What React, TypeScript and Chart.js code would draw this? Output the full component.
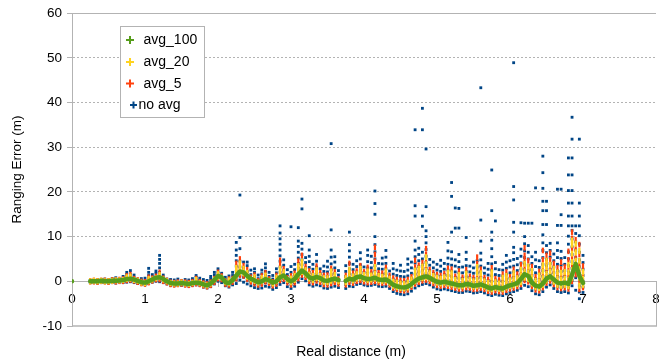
import React, { useEffect, useRef } from "react";
import { Chart, registerables } from "chart.js";

Chart.register(...registerables);

const seriesNames = ["avg_100", "avg_20", "avg_5", "no avg"];
const seriesColors = ["#579d1c", "#ffd320", "#ff420e", "#004586"];
const xTickStep = 1;
const yTickStep = 10;
const xMin = 0;
const xMax = 8;
const yMin = -10;
const yMax = 60;
const xTitle = "Real distance (m)";
const yTitle = "Ranging Error (m)";
const lineBreaksAfter = [0, 3.65];

// avg_100: [distance, error]
const avg100: number[][] = [
  [0, 0],
  [0.25, 0.0], [0.3, 0.0], [0.35, 0.0], [0.4, 0.1], [0.45, 0.0], [0.5, 0.0], [0.55, 0.1], [0.6, 0.1],
  [0.65, 0.2], [0.7, 0.3], [0.75, 0.5], [0.8, 0.6], [0.85, 0.4], [0.9, 0.1], [0.95, -0.2], [1.0, -0.3],
  [1.05, 0.0], [1.1, 0.4], [1.15, 0.8], [1.2, 0.9], [1.25, 0.5], [1.3, 0.0], [1.35, -0.4], [1.4, -0.5],
  [1.45, -0.5], [1.5, -0.4], [1.55, -0.5], [1.6, -0.6], [1.65, -0.4], [1.7, -0.3], [1.75, -0.4], [1.8, -0.7],
  [1.85, -0.9], [1.9, -0.5], [1.95, 0.3], [2.0, 1.2], [2.05, 0.9], [2.1, -0.2], [2.15, -0.4], [2.2, 0.3],
  [2.25, 1.3], [2.3, 2.2], [2.35, 2.0], [2.4, 1.2], [2.45, 0.6], [2.5, 0.2], [2.55, -0.2], [2.6, 0.0],
  [2.65, 0.5], [2.7, 0.2], [2.75, -0.3], [2.8, 0.0], [2.85, 0.9], [2.9, 1.3], [2.95, 0.5], [3.0, 0.0],
  [3.05, 0.5], [3.1, 1.6], [3.15, 2.4], [3.2, 1.8], [3.25, 0.9], [3.3, 0.6], [3.35, 1.0], [3.4, 0.7],
  [3.45, 0.2], [3.5, 0.1], [3.55, 0.4], [3.6, 0.6], [3.65, 0.3],
  [3.75, 0.1], [3.8, 0.6], [3.85, 0.4], [3.9, 0.9], [3.95, 1.1], [4.0, 0.7], [4.05, 0.5], [4.1, 0.6],
  [4.15, 0.8], [4.2, 0.4], [4.25, 0.3], [4.3, 0.4], [4.35, -0.1], [4.4, -0.8], [4.45, -1.1], [4.5, -1.3],
  [4.55, -1.4], [4.6, -1.2], [4.65, -0.6], [4.7, 0.1], [4.75, 0.6], [4.8, 0.9], [4.85, 1.1], [4.9, 0.8],
  [4.95, 0.3], [5.0, -0.1], [5.05, -0.3], [5.1, -0.1], [5.15, -0.3], [5.2, -0.5], [5.25, -0.7], [5.3, -0.9],
  [5.35, -0.9], [5.4, -0.6], [5.45, -0.7], [5.5, -1.0], [5.55, -0.9], [5.6, -0.7], [5.65, -1.0], [5.7, -1.4],
  [5.75, -1.6], [5.8, -1.3], [5.85, -1.5], [5.9, -1.6], [5.95, -1.2], [6.0, -0.9], [6.05, -0.7], [6.1, -0.4],
  [6.15, 0.5], [6.2, 1.6], [6.25, 1.2], [6.3, -0.3], [6.35, -1.0], [6.4, -1.2], [6.45, -0.5], [6.5, 0.6],
  [6.55, 1.1], [6.6, 0.4], [6.65, -0.3], [6.7, -0.5], [6.75, -0.3], [6.8, -0.6], [6.85, 1.5], [6.9, 3.9],
  [6.95, 1.2], [7.0, -0.4],
];

// avg_20: [distance, error, error, ...]
const avg20: number[][] = [
  [0.25, 0], [0.3, 0.1], [0.35, 0], [0.4, 0.1], [0.45, 0], [0.5, 0], [0.55, 0.1], [0.6, 0.2], [0.65, 0.2],
  [0.7, 0.3], [0.75, 0.5, 0.9], [0.8, 0.6, 1.1], [0.85, 0.3], [0.9, 0.1], [0.95, -0.3], [1.0, -0.4],
  [1.05, 0, 0.5], [1.1, 0.4], [1.15, 0.7], [1.2, 0.9, 1.4], [1.25, 0.4], [1.3, 0], [1.35, -0.4], [1.4, -0.5],
  [1.45, -0.5], [1.5, -0.3], [1.55, -0.5], [1.6, -0.6], [1.65, -0.4], [1.7, -0.2, 0.3], [1.75, -0.4],
  [1.8, -0.7], [1.85, -0.9], [1.9, -0.5], [1.95, 0.3], [2.0, 1.0, 1.6], [2.05, 0.8], [2.1, -0.2],
  [2.15, -0.4, 0.2], [2.2, 0.3], [2.25, 1.1, 2.0, 3.0], [2.3, 2.0, 3.0, 4.0], [2.35, 1.8, 2.8], [2.4, 1.0, 1.9],
  [2.45, 0.4], [2.5, 0.1, 0.9], [2.55, -0.3], [2.6, 0, 0.7], [2.65, 0.4, 1.3], [2.7, 0.1], [2.75, -0.5],
  [2.8, 0, 0.8], [2.85, 0.8, 1.8, 2.8], [2.9, 1.1, 2.1], [2.95, 0.3], [3.0, -0.2, 0.6], [3.05, 0.3, 1.2],
  [3.1, 1.3, 2.4, 3.4], [3.15, 2.1, 3.2, 4.4], [3.2, 1.5, 2.5], [3.25, 0.6, 1.5], [3.3, 0.3, 1.2],
  [3.35, 0.7, 1.6, 2.5], [3.4, 0.4, 1.2], [3.45, -0.1, 0.7], [3.5, -0.2, 0.7], [3.55, 0.1, 1.0, 2.2],
  [3.6, 0.4, 1.4], [3.65, 0], [3.75, -0.2, 0.7], [3.8, 0.4, 1.4, 2.6], [3.85, 0.2, 1.1], [3.9, 0.6, 1.6],
  [3.95, 0.8, 1.8, 2.8], [4.0, 0.5, 1.4], [4.05, 0.3, 1.2, 2.2], [4.1, 0.4, 1.3], [4.15, 0.6, 1.7, 3.2],
  [4.2, 0.2, 1.2], [4.25, 0.1, 1.0], [4.3, 0.2, 1.2, 2.2], [4.35, -0.3, 0.6], [4.4, -1.0, -0.1],
  [4.45, -1.3, -0.3], [4.5, -1.5, -0.5], [4.55, -1.6, -0.6], [4.6, -1.4, -0.3], [4.65, -0.8, 0.4],
  [4.7, 0, 1.2, 2.4], [4.75, 0.4, 1.6, 2.8], [4.8, 0.7, 2.0, 3.3], [4.85, 0.9, 2.3, 3.8, 5.4], [4.9, 0.6, 1.8],
  [4.95, 0.1, 1.2], [5.0, -0.3, 0.8], [5.05, -0.5, 0.6], [5.1, -0.3, 0.9], [5.15, -0.5, 0.7, 1.9],
  [5.2, -0.7, 0.5, 1.8], [5.25, -0.9, 0.3], [5.3, -1.1, 0.2, 1.4], [5.35, -1.1, 0.1], [5.4, -0.8, 0.4, 1.7],
  [5.45, -0.9, 0.3], [5.5, -1.2, 0], [5.55, -1.1, 0.3, 1.8, 3.2], [5.6, -0.9, 0.4, 1.8], [5.65, -1.2, 0],
  [5.7, -1.6, -0.4], [5.75, -1.8, -0.6, 0.8, 2.0], [5.8, -1.5, -0.2], [5.85, -1.7, -0.5], [5.9, -1.8, -0.6, 0.8],
  [5.95, -1.4, -0.1, 1.2], [6.0, -1.1, 0.2], [6.05, -0.9, 0.4, 1.8], [6.1, -0.6, 0.7], [6.15, -0.2, 1.2, 2.6],
  [6.2, 0.8, 2.2, 3.9], [6.25, 0.5, 1.9, 3.3], [6.3, -0.5, 0.9, 2.3], [6.35, -1.3, 0.1], [6.4, -1.5, -0.1, 1.3],
  [6.45, -0.8, 0.7, 2.2, 3.6], [6.5, 0.2, 1.7, 3.2, 4.6], [6.55, 0.7, 2.2, 3.7], [6.6, -0.1, 1.4, 2.8],
  [6.65, -0.8, 0.6, 2.0], [6.7, -1.0, 0.4, 1.9], [6.75, -0.8, 0.6, 2.1], [6.8, -1.1, 0.4, 2.0, 3.6],
  [6.85, 0.8, 2.5, 4.3, 6.2, 8.2, 9.1], [6.9, 2.8, 4.6, 6.5, 8.4], [6.95, -1.0, 0.8, 2.7, 4.6, 6.8],
  [7.0, -0.8, 0.6, 2.1],
];

// avg_5: [distance, error, error, ...]
const avg5: number[][] = [
  [0.25, -0.1, 0.1], [0.3, -0.1, 0.2], [0.35, -0.2, 0.1], [0.4, 0, 0.2], [0.45, -0.1, 0.2], [0.5, -0.2, 0.1],
  [0.55, 0, 0.3], [0.6, -0.1, 0.3], [0.65, 0, 0.4], [0.7, 0, 0.5], [0.75, 0.2, 0.8, 1.2], [0.8, 0.3, 0.9, 1.5],
  [0.85, 0.1, 0.6], [0.9, -0.2, 0.3], [0.95, -0.5, 0], [1.0, -0.6, -0.1], [1.05, -0.3, 0.3, 0.9],
  [1.1, 0.1, 0.7], [1.15, 0.4, 1.1], [1.2, 0.4, 1.2, 2.0], [1.25, 0, 0.7], [1.3, -0.3, 0.2], [1.35, -0.7, -0.2],
  [1.4, -0.8, -0.3], [1.45, -0.7, -0.2], [1.5, -0.6, -0.1], [1.55, -0.8, -0.2], [1.6, -0.9, -0.3],
  [1.65, -0.7, -0.1], [1.7, -0.5, 0.1, 0.6], [1.75, -0.7, -0.1], [1.8, -1.0, -0.4], [1.85, -1.2, -0.6],
  [1.9, -0.9, -0.2], [1.95, -0.2, 0.6], [2.0, 0.6, 1.4, 2.0], [2.05, 0.4, 1.2], [2.1, -0.6, 0.1],
  [2.15, -0.8, -0.1, 0.5], [2.2, -0.2, 0.6], [2.25, 0.6, 1.6, 2.8, 4.0], [2.3, 1.4, 2.5, 3.6, 5.0],
  [2.35, 1.2, 2.4, 3.5], [2.4, 0.5, 1.5, 2.6], [2.45, -0.1, 0.9], [2.5, -0.5, 0.5, 1.4], [2.55, -0.8, 0.1],
  [2.6, -0.6, 0.4, 1.2], [2.65, -0.1, 0.9, 1.9], [2.7, -0.4, 0.5], [2.75, -1.0, -0.1], [2.8, -0.6, 0.4, 1.3],
  [2.85, 0.2, 1.3, 2.5, 3.6, 4.7], [2.9, 0.5, 1.6, 2.8], [2.95, -0.3, 0.8], [3.0, -0.8, 0.2, 1.2],
  [3.05, -0.3, 0.8, 1.8], [3.1, 0.6, 1.9, 3.2, 4.5], [3.15, 1.4, 2.7, 4.1, 5.8], [3.2, 0.9, 2.1, 3.3],
  [3.25, 0, 1.1, 2.3], [3.3, -0.3, 0.8, 1.9], [3.35, 0.1, 1.2, 2.4, 3.4], [3.4, -0.2, 0.9, 1.9],
  [3.45, -0.7, 0.4, 1.3], [3.5, -0.8, 0.3, 1.4], [3.55, -0.5, 0.6, 1.8, 2.9], [3.6, -0.2, 0.9, 2.1],
  [3.65, -0.6, 0.5], [3.75, -0.8, 0.3, 1.3], [3.8, -0.2, 0.9, 2.2, 4.0], [3.85, -0.4, 0.7, 1.8],
  [3.9, 0, 1.1, 2.3], [3.95, 0.2, 1.4, 2.6, 3.5], [4.0, -0.1, 1.0, 2.1], [4.05, -0.3, 0.8, 2.0, 3.1],
  [4.1, -0.2, 0.9, 2.1], [4.15, 0, 1.3, 2.8, 4.5, 6.0, 7.6], [4.2, -0.3, 0.8, 1.9], [4.25, -0.4, 0.7, 1.8],
  [4.3, -0.3, 0.8, 2.0, 3.1], [4.35, -0.8, 0.3, 1.3], [4.4, -1.5, -0.4, 0.7], [4.45, -1.8, -0.7, 0.4],
  [4.5, -2.0, -0.9, 0.2], [4.55, -2.1, -1.0, 0.1], [4.6, -1.9, -0.8, 0.4], [4.65, -1.3, -0.2, 1.0],
  [4.7, -0.6, 0.6, 1.9, 3.2, 4.7], [4.75, -0.2, 1.0, 2.3, 3.6], [4.8, 0.1, 1.4, 2.8, 4.2],
  [4.85, 0.3, 1.7, 3.2, 4.7, 6.0, 7.3], [4.9, 0, 1.3, 2.6], [4.95, -0.5, 0.7, 1.9], [5.0, -0.9, 0.3, 1.5],
  [5.05, -1.1, 0.1, 1.3], [5.1, -0.9, 0.4, 1.7], [5.15, -1.1, 0.2, 1.5, 2.9], [5.2, -1.3, 0, 1.3, 2.7],
  [5.25, -1.5, -0.2, 1.1], [5.3, -1.7, -0.4, 0.9, 2.3], [5.35, -1.7, -0.4, 0.9], [5.4, -1.4, -0.1, 1.2, 2.6],
  [5.45, -1.5, -0.2, 1.1], [5.5, -1.8, -0.5, 0.8], [5.55, -1.7, -0.4, 1.0, 2.5, 4.0, 5.4],
  [5.6, -1.5, -0.2, 1.2, 2.7], [5.65, -1.8, -0.5, 0.8], [5.7, -2.2, -0.9, 0.4], [5.75, -2.4, -1.1, 0.2, 1.6, 3.0],
  [5.8, -2.1, -0.8, 0.6], [5.85, -2.3, -1.0, 0.3], [5.9, -2.4, -1.1, 0.2, 1.6], [5.95, -2.0, -0.7, 0.7, 2.1],
  [6.0, -1.7, -0.4, 1.0], [6.05, -1.5, -0.2, 1.2, 2.7], [6.1, -1.2, 0.2, 1.6], [6.15, -0.7, 0.7, 2.2, 3.7],
  [6.2, 0.2, 1.7, 3.3, 4.9, 5.8, 7.5], [6.25, -0.1, 1.4, 3.0, 4.6], [6.3, -1.1, 0.3, 1.8, 3.3],
  [6.35, -1.9, -0.5, 1.0], [6.4, -2.1, -0.7, 0.8, 2.2], [6.45, -1.4, 0.1, 1.6, 3.2, 4.8, 6.9],
  [6.5, -0.4, 1.1, 2.7, 4.3, 5.8], [6.55, 0.1, 1.6, 3.2, 4.8, 6.3], [6.6, -0.7, 0.8, 2.4, 4.0],
  [6.65, -1.4, 0, 1.5, 3.0], [6.7, -1.6, -0.2, 1.3, 2.8, 4.3], [6.75, -1.4, 0, 1.6, 3.2],
  [6.8, -1.7, -0.2, 1.4, 3.0, 4.8, 6.7], [6.85, 0, 1.7, 3.5, 5.4, 7.4, 9.6, 11.0], [6.9, 1.5, 3.3, 5.2, 7.2, 9.3],
  [6.95, -1.8, 0, 1.9, 3.9, 6.0, 8.2], [7.0, -1.4, 0.1, 1.7, 3.4],
];

// no avg: [distance, error, error, ...]
const noAvg: number[][] = [
  [0.25, -0.3, 0, 0.2], [0.3, -0.2, 0.1, 0.3], [0.35, -0.4, 0, 0.3], [0.4, -0.3, 0.1, 0.4], [0.45, -0.3, 0, 0.5],
  [0.5, -0.4, -0.1, 0.3], [0.55, -0.3, 0.1, 0.6], [0.6, -0.4, 0, 0.4, 0.8], [0.65, -0.2, 0.2, 0.5],
  [0.7, -0.3, 0.2, 0.7, 1.1], [0.75, -0.2, 0.3, 0.8, 1.5, 2.0], [0.8, -0.1, 0.4, 1.0, 1.6, 2.4],
  [0.85, -0.3, 0.2, 0.8, 1.4], [0.9, -0.5, 0, 0.5], [0.95, -0.7, -0.3, 0.2, 0.6], [1.0, -0.8, -0.4, 0.1, 0.7],
  [1.05, -0.5, 0, 0.6, 1.3, 2.0, 2.9], [1.1, -0.2, 0.3, 0.9, 1.5], [1.15, 0, 0.5, 1.1, 1.8, 2.3],
  [1.2, -0.1, 0.6, 1.3, 2.0, 3.0, 4.0, 4.9, 5.8], [1.25, -0.3, 0.2, 0.8, 1.4], [1.3, -0.6, -0.1, 0.5],
  [1.35, -0.9, -0.5, 0, 0.4], [1.4, -1.0, -0.6, -0.1, 0.3], [1.45, -0.9, -0.5, 0, 0.5], [1.5, -0.9, -0.4, 0.1],
  [1.55, -1.0, -0.5, 0, 0.4], [1.6, -1.1, -0.6, -0.2, 0.3], [1.65, -0.9, -0.4, 0.1, 0.6],
  [1.7, -0.8, -0.3, 0.3, 0.9, 1.3], [1.75, -0.9, -0.4, 0.2, 0.7], [1.8, -1.3, -0.8, -0.2, 0.4],
  [1.85, -1.5, -1.0, -0.4, 0.2], [1.9, -1.2, -0.6, 0, 0.6, 1.1], [1.95, -0.6, 0, 0.7, 1.4, 2.0],
  [2.0, 0, 0.7, 1.4, 2.1, 2.8], [2.05, -0.3, 0.4, 1.1, 1.8], [2.1, -1.0, -0.4, 0.3, 0.9],
  [2.15, -1.3, -0.7, 0, 0.6, 1.2], [2.2, -0.8, -0.1, 0.6, 1.3, 2.0],
  [2.25, -0.5, 0.4, 1.2, 2.2, 3.4, 4.6, 5.8, 7.0, 8.7], [2.3, 0.3, 1.2, 2.2, 3.2, 4.5, 7.3, 9.8, 19.3],
  [2.35, -0.2, 0.9, 2.0, 3.0, 4.3], [2.4, -0.6, 0.3, 1.2, 2.2, 3.5, 4.3], [2.45, -1.0, -0.2, 0.6, 1.5, 2.5],
  [2.5, -1.4, -0.6, 0.2, 1.0, 2.0, 2.8], [2.55, -1.6, -0.9, -0.2, 0.6, 1.4], [2.6, -1.5, -0.7, 0, 0.8, 1.7, 2.5],
  [2.65, -1.1, -0.3, 0.5, 1.3, 2.2, 3.0, 3.9], [2.7, -1.3, -0.5, 0.3, 1.1, 2.0], [2.75, -1.8, -1.0, -0.3, 0.5, 1.3],
  [2.8, -1.4, -0.6, 0.2, 1.0, 1.9, 2.8], [2.85, -0.7, 0.2, 1.0, 2.0, 3.2, 4.5, 5.7, 7.0, 8.3, 9.5, 10.8, 12.4],
  [2.9, -0.3, 0.6, 1.5, 2.5, 3.6, 4.8], [2.95, -1.2, -0.3, 0.6, 1.5, 2.6], [3.0, -1.6, -0.8, 0.1, 1.0, 2.0, 3.3, 12.2],
  [3.05, -1.1, -0.3, 0.6, 1.5, 2.6, 3.8], [3.1, -0.2, 0.8, 1.8, 2.9, 4.0, 5.2, 6.5, 7.8, 9.0, 12.0],
  [3.15, 0.6, 1.6, 2.6, 3.7, 4.8, 6.0, 7.2, 8.5, 16.2, 18.4], [3.2, 0.1, 1.0, 2.0, 3.0, 4.2, 5.3],
  [3.25, -0.8, 0.1, 1.0, 2.0, 3.1, 4.4, 5.6, 7.0, 10.2], [3.3, -1.1, -0.2, 0.7, 1.6, 2.7, 3.8],
  [3.35, -0.8, 0.1, 1.0, 2.0, 3.2, 4.5, 6.0], [3.4, -1.0, -0.1, 0.8, 1.7, 2.8], [3.45, -1.5, -0.6, 0.3, 1.2, 2.2, 3.4],
  [3.5, -1.6, -0.7, 0.2, 1.1, 2.1, 3.2, 4.5], [3.55, -1.3, -0.4, 0.5, 1.5, 2.6, 3.9, 5.4, 7.0, 11.5, 30.8],
  [3.6, -1.1, -0.2, 0.8, 1.8, 3.0, 4.3, 5.5], [3.65, -1.4, -0.5, 0.4, 1.4, 2.4],
  [3.75, -1.6, -0.7, 0.2, 1.1, 2.2, 3.5], [3.8, -1.1, -0.2, 0.7, 1.7, 2.8, 4.0, 5.4, 6.8, 8.2, 11.0],
  [3.85, -1.2, -0.3, 0.6, 1.5, 2.6, 3.8], [3.9, -0.7, 0.2, 1.1, 2.1, 3.3, 4.6],
  [3.95, -0.5, 0.4, 1.4, 2.5, 3.7, 5.0, 6.4], [4.0, -0.8, 0.1, 1.0, 2.0, 3.2],
  [4.05, -1.0, -0.1, 0.8, 1.8, 3.0, 4.4, 5.8, 7.0], [4.1, -0.9, 0, 0.9, 1.9, 3.0, 4.2, 5.6],
  [4.15, -0.7, 0.2, 1.2, 2.3, 3.5, 5.0, 6.6, 8.2, 10.0, 15.0, 17.4, 20.2], [4.2, -1.1, -0.2, 0.7, 1.7, 2.8, 4.0],
  [4.25, -1.2, -0.3, 0.6, 1.6, 2.7, 3.9, 5.2], [4.3, -1.1, -0.2, 0.7, 1.7, 2.8, 4.0, 5.4, 6.9],
  [4.35, -1.6, -0.7, 0.2, 1.2, 2.3], [4.4, -2.3, -1.4, -0.5, 0.5, 1.6, 2.8, 4.0],
  [4.45, -2.7, -1.8, -0.8, 0.2, 1.3, 2.5], [4.5, -2.9, -2.0, -1.0, 0, 1.1, 2.3, 3.6],
  [4.55, -3.0, -2.1, -1.1, -0.1, 1.0, 2.2], [4.6, -2.8, -1.9, -0.9, 0.1, 1.2, 2.5, 3.8, 5.0],
  [4.65, -2.2, -1.3, -0.3, 0.7, 1.8, 3.0, 4.3],
  [4.7, -1.5, -0.5, 0.5, 1.6, 2.8, 4.1, 5.5, 7.0, 9.0, 14.6, 16.9, 33.9],
  [4.75, -1.0, 0, 1.0, 2.1, 3.3, 4.6, 6.0, 7.4],
  [4.8, -0.7, 0.3, 1.4, 2.5, 3.7, 5.0, 6.5, 12.3, 14.6, 33.9, 38.7],
  [4.85, -0.5, 0.6, 1.7, 2.9, 4.2, 5.6, 7.1, 8.6, 10.0, 11.3, 16.7, 29.6],
  [4.9, -0.8, 0.2, 1.3, 2.4, 3.6, 4.9], [4.95, -1.3, -0.3, 0.7, 1.8, 3.0, 4.3],
  [5.0, -1.7, -0.7, 0.3, 1.4, 2.5, 3.8], [5.05, -1.9, -0.9, 0.1, 1.1, 2.2, 3.4, 4.7],
  [5.1, -1.7, -0.7, 0.4, 1.5, 2.7, 4.0], [5.15, -1.9, -0.9, 0.2, 1.3, 2.5, 3.8, 5.2, 6.8, 8.7],
  [5.2, -2.1, -1.1, 0, 1.1, 2.3, 3.6, 5.0, 6.6, 11.0, 19.0, 22.1],
  [5.25, -2.3, -1.3, -0.2, 0.9, 2.1, 3.4, 4.8, 11.9, 16.4],
  [5.3, -2.5, -1.5, -0.4, 0.7, 1.9, 3.1, 4.4, 6.0, 11.9, 16.3], [5.35, -2.5, -1.5, -0.4, 0.7, 1.9, 3.2],
  [5.4, -2.2, -1.2, -0.1, 1.0, 2.2, 3.5, 4.9, 6.5, 9.8], [5.45, -2.3, -1.3, -0.2, 0.9, 2.1, 3.4],
  [5.5, -2.6, -1.6, -0.5, 0.6, 1.8, 3.0, 4.3], [5.55, -2.5, -1.5, -0.4, 0.7, 1.9, 3.2, 4.6],
  [5.6, -2.3, -1.3, -0.2, 0.9, 2.1, 3.4, 4.8, 6.3, 9.0, 13.7, 43.3], [5.65, -2.6, -1.6, -0.5, 0.6, 1.8, 3.0],
  [5.7, -3.0, -2.0, -0.9, 0.2, 1.4, 2.7, 4.0],
  [5.75, -3.2, -2.2, -1.1, 0, 1.2, 2.5, 3.9, 5.5, 7.3, 9.2, 11.0, 15.8, 24.9],
  [5.8, -2.9, -1.9, -0.8, 0.3, 1.5, 2.8, 4.2, 13.5], [5.85, -3.1, -2.1, -1.0, 0.1, 1.3, 2.6],
  [5.9, -3.2, -2.2, -1.1, 0, 1.2, 2.5, 3.8], [5.95, -2.8, -1.8, -0.7, 0.4, 1.6, 2.9, 4.3, 5.8],
  [6.0, -2.5, -1.5, -0.4, 0.7, 1.9, 3.2, 4.6],
  [6.05, -2.3, -1.3, -0.2, 0.9, 2.1, 3.4, 4.9, 6.4, 7.6, 11.0, 13.2, 18.2, 21.2, 48.9],
  [6.1, -2.0, -1.0, 0.1, 1.2, 2.4, 3.7, 5.1], [6.15, -1.6, -0.6, 0.5, 1.6, 2.8, 4.1, 5.6, 7.2, 13.1],
  [6.2, -0.9, 0.2, 1.4, 2.6, 3.9, 5.3, 6.8, 8.4, 10.0, 13.0],
  [6.25, -1.2, -0.1, 1.1, 2.3, 3.6, 5.0, 6.5, 8.0, 13.0], [6.3, -2.1, -1.0, 0.1, 1.3, 2.6, 4.0, 5.5, 13.0],
  [6.35, -2.8, -1.7, -0.6, 0.6, 1.9, 3.3, 4.8, 6.5, 20.9], [6.4, -3.0, -1.9, -0.8, 0.4, 1.7, 3.1, 4.6],
  [6.45, -2.3, -1.2, -0.1, 1.1, 2.4, 3.8, 5.3, 6.9, 8.6, 10.4, 12.7, 15.8, 17.9, 20.8, 24.3, 28.0],
  [6.5, -1.3, -0.2, 1.0, 2.2, 3.5, 4.9, 6.4, 8.0, 12.7, 15.8, 17.9], [6.55, -0.8, 0.3, 1.5, 2.7, 4.0, 5.4, 6.9, 8.5],
  [6.6, -1.6, -0.5, 0.7, 1.9, 3.2, 4.6, 6.1], [6.65, -2.3, -1.2, -0.1, 1.1, 2.4, 3.8, 5.3, 6.9, 8.6, 12.5, 20.6],
  [6.7, -2.5, -1.4, -0.3, 0.9, 2.2, 3.6, 5.1, 6.7, 12.5, 14.9, 20.6], [6.75, -2.3, -1.2, -0.1, 1.1, 2.4, 3.8, 5.3],
  [6.8, -2.6, -1.5, -0.4, 0.8, 2.1, 3.5, 5.0, 6.6, 8.3, 10.1, 12.4, 14.6, 17.5, 20.3, 23.8, 27.6],
  [6.85, -1.0, 0.2, 1.5, 2.9, 4.4, 6.0, 7.7, 9.5, 11.4, 12.4, 14.6, 17.5, 20.3, 23.8, 27.6, 31.8, 36.7],
  [6.9, -2.0, 0.8, 2.2, 3.7, 5.3, 7.0, 8.8, 10.7, 12.4],
  [6.95, -3.9, -2.4, -1.0, 0.3, 1.7, 3.2, 4.8, 6.5, 8.3, 10.2, 12.4, 14.6, 17.5, 31.8],
  [7.0, -2.5, -1.3, 0, 1.3, 2.7, 4.2, 5.8],
];

type Pt = { x: number; y: number | null };

function rowsToPoints(rows: number[][]): Pt[] {
  const pts: Pt[] = [];
  for (const r of rows) {
    for (let i = 1; i < r.length; i++) pts.push({ x: r[0], y: r[i] });
  }
  return pts;
}

function lineToPoints(rows: number[][]): Pt[] {
  const pts: Pt[] = [];
  for (const r of rows) {
    pts.push({ x: r[0], y: r[1] });
    if (lineBreaksAfter.includes(r[0])) pts.push({ x: r[0] + 0.01, y: null });
  }
  return pts;
}

const FONT = "'Liberation Sans', Arial, sans-serif";
const AXIS_GRAY = "#b3b3b3";
const PLOT_RIGHT_GAP = 3;

// Widen the plot area to the right edge (the last tick label may overflow, as in the original)
const areaPlugin = {
  id: "plotArea",
  afterLayout(chart: any) {
    const ca = chart.chartArea;
    const newRight = chart.width - PLOT_RIGHT_GAP;
    ca.right = newRight;
    ca.width = newRight - ca.left;
    const xs = chart.scales.x;
    xs.right = newRight;
    xs.width = newRight - xs.left;
    xs.configure();
  },
};

const framePlugin = {
  id: "frame",
  beforeDatasetsDraw(chart: any) {
    const { ctx, chartArea, scales } = chart;
    const y0 = scales.y.getPixelForValue(0);
    ctx.save();
    ctx.strokeStyle = AXIS_GRAY;
    ctx.lineWidth = 1;
    ctx.beginPath();
    ctx.moveTo(chartArea.left, Math.round(chartArea.top) + 0.5);
    ctx.lineTo(chartArea.right, Math.round(chartArea.top) + 0.5);
    ctx.moveTo(Math.round(chartArea.right) + 0.5, y0);
    ctx.lineTo(Math.round(chartArea.right) + 0.5, chartArea.bottom);
    ctx.stroke();
    ctx.lineWidth = 1.6;
    ctx.beginPath();
    ctx.moveTo(chartArea.left, chartArea.bottom);
    ctx.lineTo(chartArea.right + 1, chartArea.bottom);
    ctx.stroke();
    ctx.restore();
  },
};

const legendPlugin = {
  id: "customLegend",
  afterDraw(chart: any) {
    const ctx = chart.ctx;
    ctx.save();
    ctx.fillStyle = "#ffffff";
    ctx.fillRect(120.5, 26.5, 84, 91);
    ctx.strokeStyle = AXIS_GRAY;
    ctx.lineWidth = 1;
    ctx.strokeRect(120.5, 26.5, 84, 91);
    const rows = [
      { y: 40, mx: 130, tx: 143.5, s: 4 },
      { y: 62, mx: 130, tx: 143.5, s: 4 },
      { y: 83.5, mx: 130, tx: 143.5, s: 4 },
      { y: 105, mx: 133.5, tx: 138.5, s: 3.5 },
    ];
    ctx.font = `14px ${FONT}`;
    ctx.textBaseline = "middle";
    ctx.textAlign = "left";
    rows.forEach((r, i) => {
      ctx.strokeStyle = seriesColors[i];
      ctx.lineWidth = 2;
      ctx.beginPath();
      ctx.moveTo(r.mx - r.s, r.y);
      ctx.lineTo(r.mx + r.s, r.y);
      ctx.moveTo(r.mx, r.y - r.s);
      ctx.lineTo(r.mx, r.y + r.s);
      ctx.stroke();
      ctx.fillStyle = "#000000";
      ctx.fillText(seriesNames[i], r.tx, r.y + 0.5);
    });
    // x axis title
    ctx.textAlign = "center";
    ctx.fillText(xTitle, 351, 352);
    ctx.restore();
  },
};

export default function App() {
  const ref = useRef<HTMLCanvasElement | null>(null);
  useEffect(() => {
    document.body.style.margin = "0";
    const canvas = ref.current;
    if (!canvas) return;
    const chart = new Chart(canvas, {
      type: "scatter",
      data: {
        datasets: [
          {
            label: seriesNames[0],
            data: lineToPoints(avg100) as any,
            showLine: true,
            spanGaps: false,
            borderColor: seriesColors[0],
            backgroundColor: seriesColors[0],
            borderWidth: 4.5,
            borderJoinStyle: "round",
            borderCapStyle: "round",
            pointRadius: 1.5,
            pointBorderWidth: 0,
            tension: 0,
          },
          {
            label: seriesNames[1],
            data: rowsToPoints(avg20) as any,
            pointStyle: "line",
            rotation: 90,
            pointRadius: 3,
            borderColor: seriesColors[1],
            backgroundColor: seriesColors[1],
            pointBorderWidth: 2.4,
          },
          {
            label: seriesNames[2],
            data: rowsToPoints(avg5) as any,
            pointStyle: "line",
            rotation: 90,
            pointRadius: 2.8,
            borderColor: seriesColors[2],
            backgroundColor: seriesColors[2],
            pointBorderWidth: 2.2,
          },
          {
            label: seriesNames[3],
            data: rowsToPoints(noAvg) as any,
            pointStyle: "rect",
            pointRadius: 2.0,
            borderColor: seriesColors[3],
            backgroundColor: seriesColors[3],
            pointBorderWidth: 0,
          },
        ],
      },
      options: {
        animation: false,
        responsive: false,
        maintainAspectRatio: false,
        events: [],
        layout: { padding: { left: 0, right: 0, top: 12, bottom: 36 } },
        plugins: { legend: { display: false }, tooltip: { enabled: false } },
        scales: {
          x: {
            type: "linear",
            min: xMin,
            max: xMax,
            position: { y: 0 } as any,
            ticks: {
              stepSize: xTickStep,
              color: "#000000",
              font: { family: FONT, size: 13.5 },
              padding: 5,
              maxRotation: 0,
            },
            grid: {
              drawOnChartArea: false,
              drawTicks: true,
              tickLength: 5,
              color: AXIS_GRAY,
            },
            border: { display: true, color: AXIS_GRAY, width: 1 },
          },
          y: {
            type: "linear",
            min: yMin,
            max: yMax,
            ticks: {
              stepSize: yTickStep,
              color: "#000000",
              font: { family: FONT, size: 13.5 },
              padding: 5,
            },
            grid: {
              drawTicks: true,
              tickLength: 5,
              color: (c: any) =>
                c.tick && (c.tick.value === 0 || c.tick.value === yMin || c.tick.value === yMax)
                  ? "rgba(0,0,0,0)"
                  : AXIS_GRAY,
              tickColor: AXIS_GRAY,
            },
            border: { display: true, color: AXIS_GRAY, width: 1, dash: [2, 2] },
            title: {
              display: true,
              text: yTitle,
              color: "#000000",
              font: { family: FONT, size: 13.5 },
              padding: { top: 9, bottom: 0 },
            },
            afterFit: (scale: any) => {
              scale.width = 72;
            },
          },
        },
      },
      plugins: [areaPlugin, framePlugin, legendPlugin],
    });
    return () => chart.destroy();
  }, []);
  return (
    <canvas
      ref={ref}
      width={659}
      height={362}
      style={{ display: "block", width: 659, height: 362 }}
    />
  );
}
